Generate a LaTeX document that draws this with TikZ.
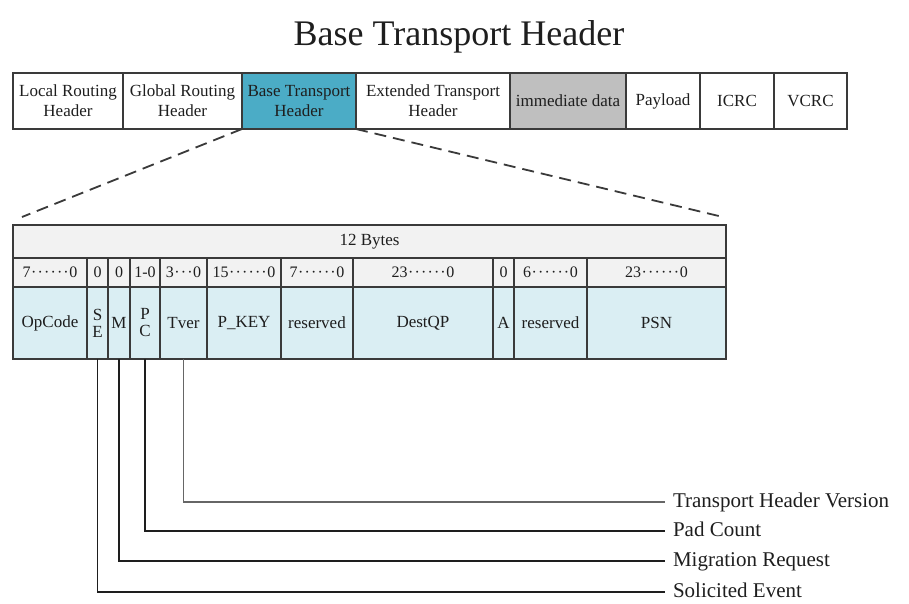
\documentclass[tikz,border=0pt]{standalone}
\usepackage{fontspec}
\setmainfont{Liberation Serif}
\newcommand\md{\kern0.035em·\kern0.035em}
\newcommand\dsix{\md\md\md\md\md\md}
\newcommand\dthree{\md\md\md}
\definecolor{teal}{HTML}{4BACC6}
\definecolor{lblue}{HTML}{DAEEF3}
\definecolor{lgray}{HTML}{F2F2F2}
\definecolor{mgray}{HTML}{BFBFBF}
\definecolor{ink}{HTML}{1E1E1E}
\definecolor{edge}{HTML}{3A3A3A}
\begin{document}
\begin{tikzpicture}[x=1pt,y=-1pt,
  cell/.style={draw=edge, line width=1.3pt, inner sep=0pt, outer sep=0pt, align=center, text=ink,
     font=\fontsize{17}{20}\selectfont},
  bitcell/.style={cell, fill=lgray, minimum height=29pt, font=\fontsize{16}{18}\selectfont},
  bodycell/.style={cell, fill=lblue, minimum height=72pt, font=\fontsize{17}{17}\selectfont},
  toprow/.style={cell, minimum height=56pt},
  lead/.style={draw=ink, line width=1.4pt},
  zoomline/.style={draw=edge, line width=1.8pt, dash pattern=on 12pt off 7pt},
  lab/.style={anchor=west, inner xsep=8pt, inner ysep=0pt, outer sep=0pt, text=ink,
     text height=14pt, text depth=4pt, font=\fontsize{21}{24}\selectfont}
]
\useasboundingbox (0,0) rectangle (909,603);

\node[text=ink, font=\fontsize{36}{40}\selectfont, anchor=base] (title) at (459,45) {Base Transport Header};

% packet row
\node[toprow, minimum width=110pt] (lrh) at (68,101) {Local Routing\\Header};
\node[toprow, minimum width=119pt] (grh) at (182.5,101) {Global Routing\\Header};
\node[toprow, minimum width=114pt, fill=teal] (bth) at (299,101) {Base Transport\\Header};
\node[toprow, minimum width=154pt] (eth) at (433,101) {Extended Transport\\Header};
\node[toprow, minimum width=116pt, fill=mgray] (imm) at (568,101) {immediate data};
\node[toprow, minimum width=74pt] (pay) at (663,101) {Payload};
\node[toprow, minimum width=74pt] (icrc) at (737,101) {ICRC};
\node[toprow, minimum width=73pt] (vcrc) at (810.5,101) {VCRC};

% zoom lines
\coordinate (zl) at (22,217);
\coordinate (zr) at (723,217);
\draw[zoomline] (bth.south west) -- (zl);
\draw[zoomline] (bth.south east) -- (zr);

% header table
\node[cell, fill=lgray, minimum width=713pt, minimum height=33pt] (bytes) at (369.5,241.5) {12 Bytes};

\foreach \n/\c/\w/\b/\t in {
  op/50/74/{7\dsix0}/OpCode,
  se/97.5/21/0/{S\\E},
  m/119/22/0/M,
  pc/145/30/{1-0}/{P\\C},
  tv/183.5/47/{3\dthree0}/Tver,
  pk/244/74/{15\dsix0}/{P\_KEY},
  ra/317/72/{7\dsix0}/reserved,
  dq/423/140/{23\dsix0}/DestQP,
  a/503.5/21/0/A,
  rb/550.5/73/{6\dsix0}/reserved,
  psn/656.5/139/{23\dsix0}/PSN}{
  \node[bitcell, minimum width=\w pt] (\n-bits) at (\c,272.5) {\b};
  \node[bodycell, minimum width=\w pt] (\n) at (\c,323) {\t};
}

% legend
\node[lab] (ltv) at (665,502) {Transport Header Version};
\node[lab] (lpc) at (665,531) {Pad Count};
\node[lab] (lm) at (665,561) {Migration Request};
\node[lab] (lse) at (665,592) {Solicited Event};

\draw[lead, draw=black!60] (tv.south) |- (ltv.west);
\draw[lead] (pc.south) |- (lpc.west);
\draw[lead] (m.south) |- (lm.west);
\draw[lead] (se.south) |- (lse.west);
\end{tikzpicture}
\end{document}
